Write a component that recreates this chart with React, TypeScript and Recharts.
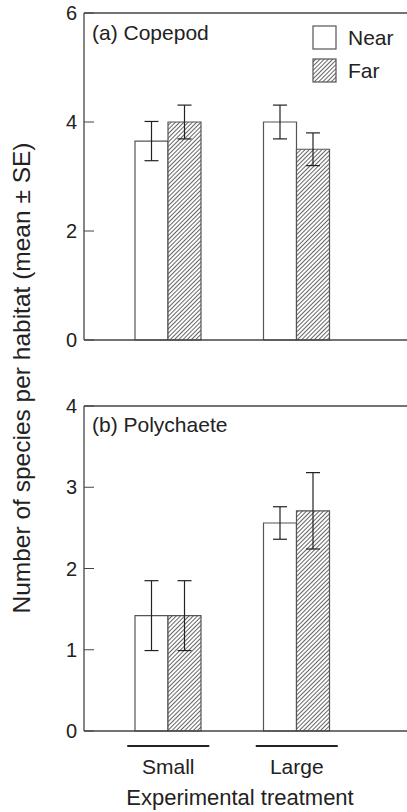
import React from "react";
import {
  BarChart,
  Bar,
  XAxis,
  YAxis,
  ErrorBar,
  ReferenceLine,
} from "recharts";

const categories = ["Small", "Large"];
const seriesNames = ["Near", "Far"];

const copepodNear = [3.65, 4.0];
const copepodNearSE = [0.36, 0.31];
const copepodFar = [4.0, 3.5];
const copepodFarSE = [0.31, 0.3];

const polyNear = [1.42, 2.56];
const polyNearSE = [0.43, 0.2];
const polyFar = [1.42, 2.71];
const polyFarSE = [0.43, 0.47];

const copepodTicks = [0, 2, 4, 6];
const polyTicks = [0, 1, 2, 3, 4];

const FONT = "'Liberation Sans', Arial, Helvetica, sans-serif";
const INK = "#222";
const AXIS = "#444";
const OUTLINE = "#555";

const copepodData = categories.map((c, i) => ({
  name: c,
  near: copepodNear[i],
  nearSE: copepodNearSE[i],
  far: copepodFar[i],
  farSE: copepodFarSE[i],
}));

const polyData = categories.map((c, i) => ({
  name: c,
  near: polyNear[i],
  nearSE: polyNearSE[i],
  far: polyFar[i],
  farSE: polyFarSE[i],
}));

// inward tick marks with the label on the outside
function InwardTick(props: any) {
  const { x, y, payload } = props;
  const ax = x + 7;
  return (
    <g>
      <line x1={ax} x2={ax + 10} y1={y} y2={y} stroke={AXIS} strokeWidth={1} />
      <text
        x={x}
        y={y}
        dy="0.36em"
        textAnchor="end"
        fontSize={20}
        fontFamily={FONT}
        fill={INK}
      >
        {payload.value}
      </text>
    </g>
  );
}

function CategoryTick(props: any) {
  const { x, y, payload } = props;
  return (
    <g>
      <line x1={x - 41} x2={x + 41} y1={y + 15} y2={y + 15} stroke={INK} strokeWidth={2} />
      <text
        x={x}
        y={y + 43}
        textAnchor="middle"
        fontSize={21}
        fontFamily={FONT}
        fill={INK}
      >
        {payload.value}
      </text>
    </g>
  );
}

function Hatch() {
  return (
    <defs>
      <pattern
        id="hatch"
        patternUnits="userSpaceOnUse"
        width={3}
        height={3}
        patternTransform="rotate(45)"
      >
        <rect width={3} height={3} fill="#fff" />
        <line x1={0} y1={0} x2={0} y2={3} stroke="#111" strokeWidth={1.3} />
      </pattern>
    </defs>
  );
}

function HatchLegend() {
  return (
    <div style={{ position: "absolute", left: 312, top: 21, fontFamily: FONT }}>
      {seriesNames.map((name) => (
        <div key={name} style={{ display: "flex", alignItems: "center", height: 33 }}>
          <svg width={26} height={26} style={{ display: "block" }}>
            <rect
              x={1}
              y={1}
              width={23}
              height={23}
              fill={name === "Far" ? "url(#hatch)" : "#fff"}
              stroke={OUTLINE}
              strokeWidth={1.2}
            />
          </svg>
          <span style={{ fontSize: 21, color: INK, marginLeft: 10 }}>{name}</span>
        </div>
      ))}
    </div>
  );
}

const panelText: React.CSSProperties = {
  position: "absolute",
  fontFamily: FONT,
  fontSize: 21,
  color: INK,
  whiteSpace: "nowrap",
  lineHeight: "24px",
};

export default function App() {
  return (
    <div
      style={{
        position: "absolute",
        left: 0,
        top: 0,
        width: 407,
        height: 812,
        background: "#fff",
        overflow: "hidden",
      }}
    >
      {/* (a) Copepod */}
      <div style={{ position: "absolute", left: 0, top: 0 }}>
        <BarChart
          width={407}
          height={360}
          data={copepodData}
          margin={{ top: 13, right: 0, bottom: 20, left: 0 }}
          barGap={0}
          barSize={33}
        >
          <Hatch />
          <XAxis dataKey="name" hide padding={{ left: 20, right: 46 }} />
          <YAxis
            width={84}
            domain={[0, 6]}
            ticks={copepodTicks}
            tickSize={0}
            tickMargin={7}
            tickLine={false}
            axisLine={{ stroke: AXIS, strokeWidth: 1.3 }}
            tick={<InwardTick />}
          />
          <ReferenceLine y={6} stroke={AXIS} strokeWidth={1.3} />
          <ReferenceLine y={0} stroke={AXIS} strokeWidth={1.6} />
          <Bar
            dataKey="near"
            name="Near"
            fill="#fff"
            stroke={OUTLINE}
            strokeWidth={1.2}
            isAnimationActive={false}
          >
            <ErrorBar dataKey="nearSE" width={7} stroke={INK} strokeWidth={1.2} />
          </Bar>
          <Bar
            dataKey="far"
            name="Far"
            fill="url(#hatch)"
            stroke={OUTLINE}
            strokeWidth={1.2}
            isAnimationActive={false}
          >
            <ErrorBar dataKey="farSE" width={7} stroke={INK} strokeWidth={1.2} />
          </Bar>
        </BarChart>
      </div>
      <div style={{ ...panelText, left: 92, top: 21 }}>(a) Copepod</div>
      <HatchLegend />

      {/* (b) Polychaete */}
      <div style={{ position: "absolute", left: 0, top: 380 }}>
        <BarChart
          width={407}
          height={432}
          data={polyData}
          margin={{ top: 26, right: 0, bottom: 0, left: 0 }}
          barGap={0}
          barSize={33}
        >
          <Hatch />
          <XAxis
            dataKey="name"
            height={81}
            padding={{ left: 20, right: 46 }}
            tickSize={0}
            tickMargin={0}
            tickLine={false}
            axisLine={{ stroke: AXIS, strokeWidth: 1.6 }}
            tick={<CategoryTick />}
          />
          <YAxis
            width={84}
            domain={[0, 4]}
            ticks={polyTicks}
            tickSize={0}
            tickMargin={7}
            tickLine={false}
            axisLine={{ stroke: AXIS, strokeWidth: 1.3 }}
            tick={<InwardTick />}
          />
          <ReferenceLine y={4} stroke={AXIS} strokeWidth={1.3} />
          <Bar
            dataKey="near"
            name="Near"
            fill="#fff"
            stroke={OUTLINE}
            strokeWidth={1.2}
            isAnimationActive={false}
          >
            <ErrorBar dataKey="nearSE" width={7} stroke={INK} strokeWidth={1.2} />
          </Bar>
          <Bar
            dataKey="far"
            name="Far"
            fill="url(#hatch)"
            stroke={OUTLINE}
            strokeWidth={1.2}
            isAnimationActive={false}
          >
            <ErrorBar dataKey="farSE" width={7} stroke={INK} strokeWidth={1.2} />
          </Bar>
        </BarChart>
      </div>
      <div style={{ ...panelText, left: 92, top: 413 }}>(b) Polychaete</div>

      <div
        style={{
          ...panelText,
          fontSize: 22,
          left: 0,
          width: 480,
          top: 786,
          textAlign: "center",
        }}
      >
        Experimental treatment
      </div>

      <svg
        width={50}
        height={812}
        style={{ position: "absolute", left: 0, top: 0, overflow: "visible" }}
      >
        <text
          transform="translate(30, 378) rotate(-90)"
          textAnchor="middle"
          fontSize={24.5}
          fontFamily={FONT}
          fill={INK}
        >
          Number of species per habitat (mean ± SE)
        </text>
      </svg>
    </div>
  );
}
